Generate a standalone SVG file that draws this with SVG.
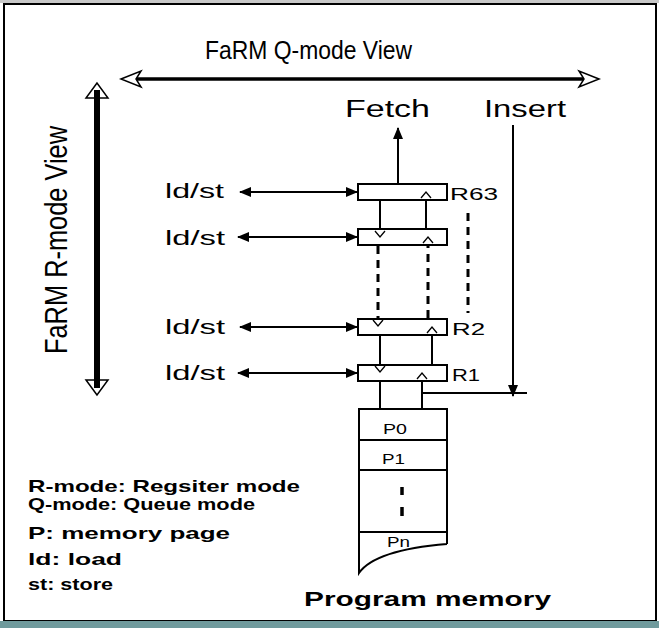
<svg xmlns="http://www.w3.org/2000/svg" width="659" height="628" viewBox="0 0 659 628">
<style>
.t{font-family:"Liberation Sans",Arial,sans-serif;fill:#000}
.b{font-weight:bold}
.ln{stroke:#000;stroke-width:2;fill:none}
.reg{fill:#fff;stroke:#000;stroke-width:2}
.chev{fill:none;stroke:#000;stroke-width:1.3}
.dash{stroke:#000;stroke-width:3;stroke-dasharray:8 6;fill:none}
</style>
<defs>
<marker id="ah" viewBox="0 0 12 10" refX="11" refY="5" markerWidth="12" markerHeight="10" markerUnits="userSpaceOnUse" orient="auto-start-reverse">
<path d="M0,0 L12,5 L0,10 z" fill="#000"/>
</marker>
</defs>
<rect x="0" y="0" width="659" height="628" fill="#fff"/>
<rect x="0" y="0" width="659" height="3" fill="#c8c8c8"/>
<rect x="4" y="4" width="652" height="617" fill="#fff" stroke="#000" stroke-width="2"/>
<rect x="0" y="621" width="659" height="7" fill="#6f9a9c"/>

<g id="q-view">
<text class="t" x="205" y="59" font-size="25" textLength="207" lengthAdjust="spacingAndGlyphs">FaRM Q-mode View</text>
<line x1="132" y1="79" x2="588" y2="79" stroke="#000" stroke-width="3.5"/>
<path d="M121,79 L141,71 L136,79 L141,87 z" fill="#fff" stroke="#000" stroke-width="1.5"/>
<path d="M599,79 L579,71 L584,79 L579,87 z" fill="#fff" stroke="#000" stroke-width="1.5"/>
</g>

<g id="r-view">
<text class="t" transform="translate(67,240) rotate(-90)" x="0" y="0" text-anchor="middle" font-size="31" textLength="228" lengthAdjust="spacingAndGlyphs">FaRM R-mode View</text>
<line x1="97" y1="90" x2="97" y2="388" stroke="#000" stroke-width="6"/>
<path d="M97,83 L86,98 L108,98 z" fill="none" stroke="#000" stroke-width="1.5"/>
<path d="M97,395 L86,380 L108,380 z" fill="none" stroke="#000" stroke-width="1.5"/>
</g>

<g id="connectors">
<line class="ln" x1="398" y1="184" x2="398" y2="128" stroke-width="2.5" marker-end="url(#ah)"/>
<line class="ln" x1="513" y1="125" x2="513" y2="396" stroke-width="2.5" marker-end="url(#ah)"/>
<line class="ln" x1="422" y1="393" x2="527" y2="393"/>
<line class="ln" x1="240" y1="192" x2="357" y2="192" marker-start="url(#ah)" marker-end="url(#ah)"/>
<line class="ln" x1="238" y1="237" x2="357" y2="237" marker-start="url(#ah)" marker-end="url(#ah)"/>
<line class="ln" x1="240" y1="327" x2="357" y2="327" marker-start="url(#ah)" marker-end="url(#ah)"/>
<line class="ln" x1="238" y1="373" x2="357" y2="373" marker-start="url(#ah)" marker-end="url(#ah)"/>
<line class="ln" x1="380" y1="200" x2="380" y2="236" stroke-width="2.5"/>
<line class="dash" x1="378" y1="246" x2="378" y2="325"/>
<line class="ln" x1="380" y1="335" x2="380" y2="371" stroke-width="2.5"/>
<line class="ln" x1="380" y1="381" x2="380" y2="415" stroke-width="2.5"/>
<line class="ln" x1="426" y1="229" x2="426" y2="193" stroke-width="2.5"/>
<line class="dash" x1="428" y1="318" x2="428" y2="239"/>
<line class="ln" x1="432" y1="365" x2="432" y2="327" stroke-width="2.5"/>
<line class="ln" x1="422" y1="409" x2="422" y2="373" stroke-width="2.5"/>
<line class="dash" x1="468" y1="213" x2="468" y2="313" stroke-width="2.5" stroke-dasharray="8 5"/>
</g>

<g id="R63">
<rect class="reg" x="358" y="184" width="89" height="16"/>
<text class="t" x="450" y="200" font-size="17" textLength="48" lengthAdjust="spacingAndGlyphs">R63</text>
<text class="t" x="165" y="198" font-size="21" textLength="59" lengthAdjust="spacingAndGlyphs">ld/st</text>
</g>
<g id="R62">
<rect class="reg" x="358" y="229" width="89" height="16"/>
<text class="t" x="165" y="245" font-size="21" textLength="60" lengthAdjust="spacingAndGlyphs">ld/st</text>
</g>
<g id="R2">
<rect class="reg" x="358" y="319" width="89" height="16"/>
<text class="t" x="452" y="335" font-size="17" textLength="33" lengthAdjust="spacingAndGlyphs">R2</text>
<text class="t" x="165" y="334" font-size="21" textLength="60" lengthAdjust="spacingAndGlyphs">ld/st</text>
</g>
<g id="R1">
<rect class="reg" x="358" y="365" width="89" height="16"/>
<text class="t" x="452" y="381" font-size="17" textLength="28" lengthAdjust="spacingAndGlyphs">R1</text>
<text class="t" x="165" y="380" font-size="21" textLength="60" lengthAdjust="spacingAndGlyphs">ld/st</text>
</g>

<g id="chevrons">
<path class="chev" d="M375,231 L380,237 L385,231"/>
<path class="chev" d="M373,320 L378,326 L383,320"/>
<path class="chev" d="M375,366 L380,372 L385,366"/>
<path class="chev" d="M375,410 L380,416 L385,410"/>
<path class="chev" d="M421,198 L426,192 L431,198"/>
<path class="chev" d="M423,243 L428,237 L433,243"/>
<path class="chev" d="M427,333 L432,327 L437,333"/>
<path class="chev" d="M417,379 L422,373 L427,379"/>
</g>

<g id="program-memory">
<path d="M447,544 L447,409 L359,409 L359,573 Q375,550 447,544" fill="#fff" stroke="#000" stroke-width="2"/>
<line class="ln" x1="359" y1="440" x2="447" y2="440"/>
<line class="ln" x1="359" y1="470" x2="447" y2="470"/>
<line class="ln" x1="359" y1="532" x2="447" y2="532"/>
<line x1="402" y1="487" x2="402" y2="495" stroke="#000" stroke-width="3.5"/>
<line x1="402" y1="507" x2="402" y2="516" stroke="#000" stroke-width="3.5"/>
<text class="t" x="383" y="434" font-size="14" textLength="24" lengthAdjust="spacingAndGlyphs">P0</text>
<text class="t" x="382" y="464" font-size="14" textLength="23" lengthAdjust="spacingAndGlyphs">P1</text>
<text class="t" x="387" y="547" font-size="14" textLength="23" lengthAdjust="spacingAndGlyphs">Pn</text>
<text class="t b" x="304" y="606" font-size="21" textLength="247" lengthAdjust="spacingAndGlyphs">Program memory</text>
</g>

<g id="labels">
<text class="t" x="345" y="117" font-size="23" textLength="85" lengthAdjust="spacingAndGlyphs">Fetch</text>
<text class="t" x="484" y="117" font-size="23" textLength="82" lengthAdjust="spacingAndGlyphs">Insert</text>
</g>

<g id="legend">
<text class="t b" x="28" y="492" font-size="17" textLength="272" lengthAdjust="spacingAndGlyphs">R-mode: Regsiter mode</text>
<text class="t b" x="28" y="510" font-size="17" textLength="227" lengthAdjust="spacingAndGlyphs">Q-mode: Queue mode</text>
<text class="t b" x="28" y="539" font-size="17" textLength="202" lengthAdjust="spacingAndGlyphs">P: memory page</text>
<text class="t b" x="28" y="565" font-size="17" textLength="94" lengthAdjust="spacingAndGlyphs">ld: load</text>
<text class="t b" x="28" y="590" font-size="17" textLength="85" lengthAdjust="spacingAndGlyphs">st: store</text>
</g>
</svg>
